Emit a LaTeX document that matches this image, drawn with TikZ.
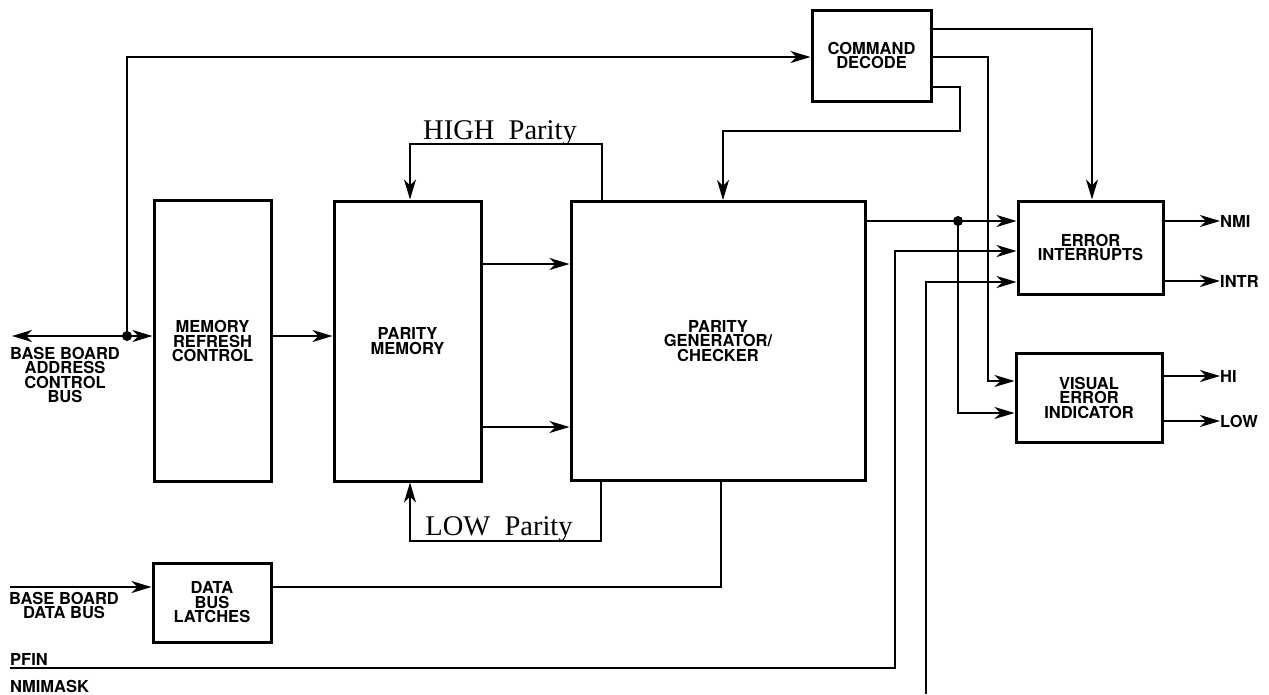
\documentclass[tikz,border=0pt]{standalone}
\usepackage{fontspec}
\newfontfamily\hvfont{TeX Gyre Heros}
\newfontfamily\serfont{Liberation Serif}
\usetikzlibrary{arrows.meta}
\tikzset{
  blk/.style={draw, line width=3pt, inner sep=0pt, align=center,
    font=\hvfont\bfseries\fontsize{16.5}{14.5}\selectfont},
  conn/.style={line width=1.5pt},
  arr/.style={conn, -{Stealth[length=20pt,width=12pt,inset=6pt]}},
  sig/.style={inner sep=0pt, font=\hvfont\bfseries\fontsize{16.5}{14.5}\selectfont},
  par/.style={inner sep=0pt, font=\serfont\fontsize{28.5}{30}\selectfont},
  jdot/.style={circle, fill, inner sep=0pt, minimum size=10pt}
}
\begin{document}
\begin{tikzpicture}[x=1pt,y=-1pt]
\useasboundingbox (0,0) rectangle (1269,694);

% blocks
\node[blk, minimum width=117pt, minimum height=281pt] (mrc) at (212.5,341) {MEMORY\\REFRESH\\CONTROL};
\node[blk, minimum width=147pt, minimum height=280pt] (pm) at (407.5,341) {PARITY\\MEMORY};
\node[blk, minimum width=294pt, minimum height=279pt] (pg) at (718,341) {PARITY\\GENERATOR/\\CHECKER};
\node[blk, minimum width=119pt, minimum height=91pt] (cmd) at (871.5,55.5) {COMMAND\\DECODE};
\node[blk, minimum width=145pt, minimum height=93pt] (ei) at (1090.5,247.5) {ERROR\\INTERRUPTS};
\node[blk, minimum width=146pt, minimum height=89pt] (vei) at (1089,397.5) {VISUAL\\ERROR\\INDICATOR};
\node[blk, minimum width=118pt, minimum height=79pt] (dbl) at (212,602.5) {DATA\\BUS\\LATCHES};

% side labels
\node[sig, anchor=north, align=center] (addrlbl) at (65,347) {BASE BOARD\\ADDRESS\\CONTROL\\BUS};
\node[sig, anchor=north, align=center] (datalbl) at (64,592) {BASE BOARD\\DATA BUS};
\node[sig, anchor=base west] (pfin) at (10,665) {PFIN};
\node[sig, anchor=base west] (nmimask) at (10,692) {NMIMASK};
\node[sig, anchor=west] (nmi) at (1220,221) {NMI};
\node[sig, anchor=west] (intr) at (1220,281) {INTR};
\node[sig, anchor=west] (hi) at (1220,376) {HI};
\node[sig, anchor=west] (low) at (1220,421) {LOW};

% coordinates
\coordinate (addrL) at (12,336);
\coordinate (dataL) at (10,587);
\coordinate (pfinL) at (10,668);
\coordinate (nmBot) at (926,694);
\node[jdot] (j1) at (127,336) {};
\node[jdot] (j2) at (958,221) {};

% address bus
\draw[conn, {Stealth[length=20pt,width=12pt,inset=6pt]}-{Stealth[length=20pt,width=12pt,inset=6pt]}] (addrL) -- (mrc.west |- addrL);
\draw[arr] (j1.center) |- (cmd.west |- 0,57);
\draw[arr] (mrc.east |- 0,336) -- (pm.west |- 0,336);

% parity memory -> generator
\draw[arr] (pm.east |- 0,264) -- (pg.west |- 0,264);
\draw[arr] (pm.east |- 0,427) -- (pg.west |- 0,427);

% HIGH / LOW parity
\draw[arr] (pg.north -| 602,0) |- (410,144) -- (pm.north -| 410,0);
\node[par, anchor=base] (hp) at (500,139) {HIGH\ \ Parity};
\draw[arr] (pg.south -| 601,0) |- (410,541) -- (pm.south -| 410,0);
\node[par, anchor=base] (lp) at (499,535) {LOW\ \ Parity};

% command decode outputs
\draw[arr] (cmd.east |- 0,29) -| (ei.north -| 1092,0);
\draw[arr] (cmd.east |- 0,57) -| (988,381) -- (vei.west |- 0,381);
\draw[arr] (cmd.east |- 0,87) -| (960,131) -- (723,131) -- (pg.north -| 723,0);

% generator -> error interrupts and visual indicator
\draw[arr] (pg.east |- j2) -- (ei.west |- j2);
\draw[arr] (j2.center) |- (vei.west |- 0,413);

% PFIN and NMIMASK
\draw[arr] (pfinL) -| (895,251) -- (ei.west |- 0,251);
\draw[arr] (nmBot) |- (ei.west |- 0,282);

% data bus
\draw[arr] (dataL) -- (dbl.west |- dataL);
\draw[conn] (dbl.east |- dataL) -| (pg.south -| 721,0);

% outputs
\draw[arr] (ei.east |- nmi.west) -- (nmi.west);
\draw[arr] (ei.east |- intr.west) -- (intr.west);
\draw[arr] (vei.east |- hi.west) -- (hi.west);
\draw[arr] (vei.east |- low.west) -- (low.west);
\end{tikzpicture}
\end{document}
